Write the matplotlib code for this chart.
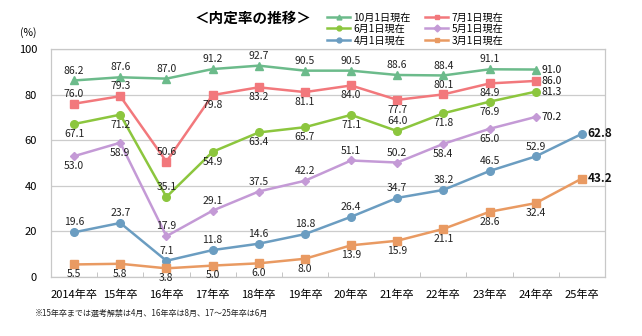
import matplotlib
matplotlib.use("Agg")
import matplotlib.pyplot as plt
from matplotlib.lines import Line2D
import numpy as np

plt.rcParams['font.family'] = ['Noto Sans CJK JP', 'DejaVu Sans']

categories = ["2014年卒", "15年卒", "16年卒", "17年卒", "18年卒", "19年卒",
              "20年卒", "21年卒", "22年卒", "23年卒", "24年卒", "25年卒"]

oct1 = [86.2, 87.6, 87.0, 91.2, 92.7, 90.5, 90.5, 88.6, 88.4, 91.1, 91.0]
jul1 = [76.0, 79.3, 50.6, 79.8, 83.2, 81.1, 84.0, 77.7, 80.1, 84.9, 86.0]
jun1 = [67.1, 71.2, 35.1, 54.9, 63.4, 65.7, 71.1, 64.0, 71.8, 76.9, 81.3]
may1 = [53.0, 58.9, 17.9, 29.1, 37.5, 42.2, 51.1, 50.2, 58.4, 65.0, 70.2]
apr1 = [19.6, 23.7, 7.1, 11.8, 14.6, 18.8, 26.4, 34.7, 38.2, 46.5, 52.9, 62.8]
mar1 = [5.5, 5.8, 3.8, 5.0, 6.0, 8.0, 13.9, 15.9, 21.1, 28.6, 32.4, 43.2]

# label placement per point: a = above, b = below, r = right
pl_oct = "aaaaaaaaaar"
pl_jul = "aaabbbbbabr"
pl_jun = "bbabbbbabbr"
pl_may = "bbaaaaaabbr"
pl_apr = "aaaaaaaaaaar"
pl_mar = "bbbbbbbbbbbr"

series = [
    ("10月1日現在", oct1, "#6cbb8b", "^", pl_oct),
    ("7月1日現在", jul1, "#f2787c", "s", pl_jul),
    ("6月1日現在", jun1, "#8cc63e", "o", pl_jun),
    ("5月1日現在", may1, "#c49ad6", "D", pl_may),
    ("4月1日現在", apr1, "#6b9dc1", "o", pl_apr),
    ("3月1日現在", mar1, "#e99a62", "s", pl_mar),
]

fig = plt.figure(figsize=(6.42, 3.36), dpi=100)
ax = fig.add_axes([51 / 642, 1 - 277 / 336, (605 - 51) / 642, (277 - 49) / 336])

x_all = np.arange(len(categories))
msize = {"^": 5.5, "s": 5.5, "o": 5.5, "D": 4.0}
for name, vals, col, mk, pl in series:
    xs = x_all[:len(vals)]
    ax.plot(xs, vals, color=col, lw=1.8, marker=mk, ms=msize[mk],
            mec=col, mfc=col, zorder=3, clip_on=False)
    last = len(vals) - 1
    for i, (xv, v) in enumerate(zip(xs, vals)):
        p = pl[i]
        bold = (last == 11 and i == last)
        if p == "a":
            ax.annotate(f"{v:.1f}", (xv, v), xytext=(0, 3.5), textcoords="offset points",
                        ha="center", va="bottom", fontsize=7.5, color="#222222")
        elif p == "b":
            ax.annotate(f"{v:.1f}", (xv, v), xytext=(0, -3.5), textcoords="offset points",
                        ha="center", va="top", fontsize=7.5, color="#222222")
        else:
            ax.annotate(f"{v:.1f}", (xv, v), xytext=(4, 0), textcoords="offset points",
                        ha="left", va="center", fontsize=8.5 if bold else 7.5,
                        color="#111111", fontweight="bold" if bold else "normal")

ax.set_xlim(-0.5, len(categories) - 0.5)
ax.set_ylim(0, 100)
ax.set_yticks([0, 20, 40, 60, 80, 100])
ax.set_xticks(x_all)
ax.set_xticklabels(categories, fontsize=8)
ax.set_xticks(np.arange(-0.5, len(categories), 1.0), minor=True)
ax.tick_params(axis="x", which="major", length=0, pad=9)
ax.tick_params(axis="x", which="minor", length=3.5, direction="in", color="#bbbbbb")
ax.tick_params(axis="y", length=0, labelsize=8, pad=10)
ax.grid(axis="y", color="#cccccc", lw=0.9)
for s in ax.spines.values():
    s.set_color("#c8c8c8")
    s.set_linewidth(0.9)
ax.set_axisbelow(True)

fig.text(20 / 642, 1 - 33 / 336, "(%)", fontsize=7.5, ha="left", va="center")
fig.text(253 / 642, 1 - 18 / 336, "＜内定率の推移＞", fontsize=10.5,
         fontweight="bold", ha="center", va="center")
fig.text(35 / 642, 1 - 313 / 336,
         "※15年卒までは選考解禁は4月、16年卒は8月、17～25年卒は6月",
         fontsize=5.8, ha="left", va="center", color="#222222")

order = [0, 2, 4, 1, 3, 5]
handles = []
for k in order:
    name, vals, col, mk, pl = series[k]
    handles.append(Line2D([0], [0], color=col, lw=1.8, marker=mk, ms=3.5,
                          mec=col, mfc=col, label=name))
fig.legend(handles=handles, ncol=2, loc="center left",
           bbox_to_anchor=(322 / 642, 1 - 29 / 336), frameon=False,
           fontsize=7.3, handlelength=2.3, handletextpad=0.3,
           columnspacing=1.4, labelspacing=0.15, borderpad=0)

fig.savefig("out.png", dpi=100)
